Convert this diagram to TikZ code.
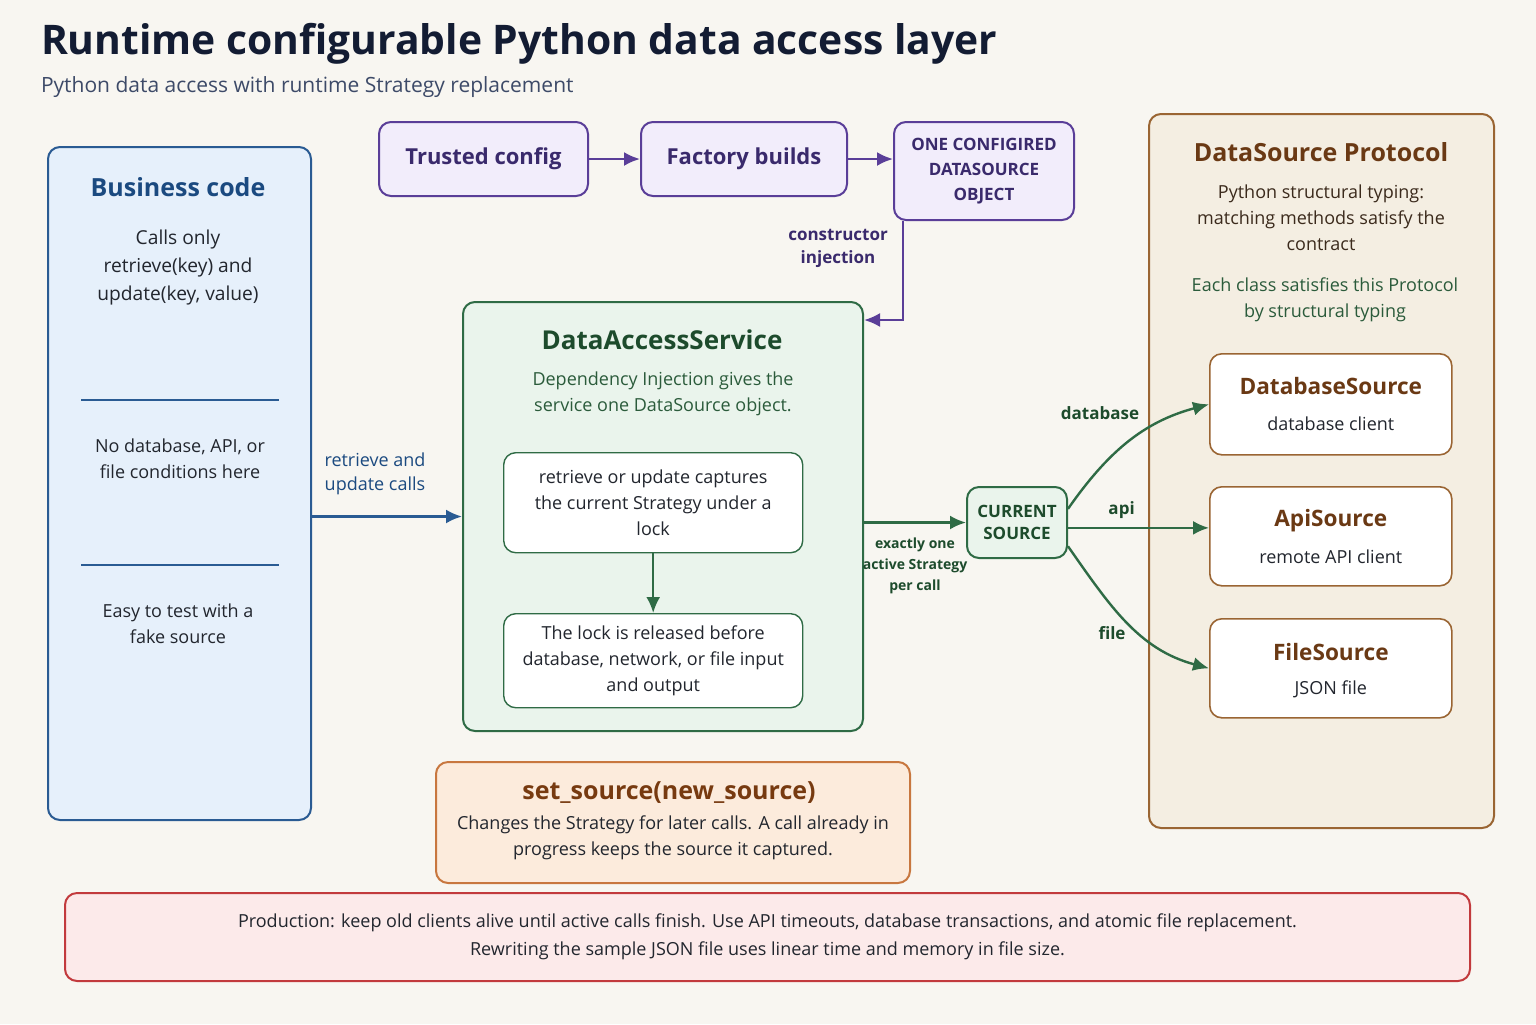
\documentclass[tikz,border=0pt]{standalone}
\usepackage{fontspec}
\setmainfont{Open Sans}
\usetikzlibrary{positioning,arrows.meta}

\definecolor{pagebg}{HTML}{F8F6F1}
\definecolor{titlec}{HTML}{131C33}
\definecolor{subc}{HTML}{3D4A68}
\definecolor{inkc}{HTML}{22262E}
\definecolor{bizfill}{HTML}{E6F0FB}
\definecolor{bizline}{HTML}{2A5B93}
\definecolor{bizhead}{HTML}{1B4A80}
\definecolor{cfgfill}{HTML}{F2EDFB}
\definecolor{cfgline}{HTML}{5A3E98}
\definecolor{cfgtext}{HTML}{3A2A6C}
\definecolor{dasfill}{HTML}{EAF4EC}
\definecolor{dasline}{HTML}{2F6B45}
\definecolor{dashead}{HTML}{1D4B2C}
\definecolor{dastext}{HTML}{2B5B3B}
\definecolor{protfill}{HTML}{F4EEE2}
\definecolor{protline}{HTML}{9A6533}
\definecolor{prothead}{HTML}{6A3914}
\definecolor{prottext}{HTML}{3B2A1C}
\definecolor{setfill}{HTML}{FCEBDC}
\definecolor{setline}{HTML}{C8773F}
\definecolor{sethead}{HTML}{773A10}
\definecolor{prodfill}{HTML}{FCEAEA}
\definecolor{prodline}{HTML}{C23A3D}

\begin{document}
\begin{tikzpicture}[x=0.5pt,y=-0.5pt,line width=1pt,>={Latex[length=8pt,width=7pt]},
	box/.style={draw,rounded corners=6pt,line width=1pt,inner sep=0pt,anchor=north west},
	body/.style={align=center,text=inkc,font=\fontsize{9}{13}\selectfont},
	bizbox/.style={box,draw=bizline,fill=bizfill},
	cfgbox/.style={box,draw=cfgline,fill=cfgfill,text=cfgtext,align=center},
	dasbox/.style={box,draw=dasline,fill=dasfill},
	innerbox/.style={box,draw=dasline,fill=white,line width=0.7pt,body},
	curbox/.style={box,draw=dasline,fill=dasfill,text=dashead,align=center,font=\bfseries\fontsize{8.5}{11}\selectfont},
	protbox/.style={box,draw=protline,fill=protfill},
	srcbox/.style={box,draw=protline,fill=white,line width=0.8pt},
	srchead/.style={text=prothead,font=\bfseries\fontsize{11.3}{14}\selectfont},
	head/.style={font=\bfseries\fontsize{12.5}{15}\selectfont},
	lbl/.style={align=center,font=\bfseries\fontsize{8.5}{11.5}\selectfont,inner sep=1pt},
	bluearrow/.style={->,draw=bizline,line width=1.2pt},
	purplearrow/.style={->,draw=cfgline,line width=1.2pt},
	greenarrow/.style={->,draw=dasline,line width=1.2pt}]

	%the page and its heading
	\useasboundingbox[fill=pagebg] (0,0) rectangle (1536,1024);
	\node[anchor=west,inner sep=0pt,text=titlec,font=\bfseries\fontsize{20.4}{24}\selectfont] (title) at (40,44) {Runtime configurable Python data access layer};
	\node[anchor=west,inner sep=0pt,text=subc,font=\fontsize{10.5}{12}\selectfont] (subtitle) at (40,87) {Python data access with runtime Strategy replacement};

	%the business code
	\node[bizbox,minimum width=131.5pt,minimum height=336.5pt] (biz) at (47,146) {};
	\node[head,text=bizhead] (bizt) at (178,187) {Business code};
	\node[body,font=\fontsize{9.6}{14}\selectfont] (bizcalls) at (178,268) {Calls only\\retrieve(key) and\\update(key, value)};
	\draw[bizline,line width=0.6pt] (81,400) -- (279,400);
	\node[body] (bizno) at (180,459) {No database, API, or\\file conditions here};
	\draw[bizline,line width=0.6pt] (81,565) -- (279,565);
	\node[body] (biztest) at (178,624) {Easy to test with a\\fake source};

	%the configuration chain
	\node[cfgbox,font=\bfseries\fontsize{11}{13}\selectfont,minimum width=104.5pt,minimum height=37pt] (trusted) at (378,121) {Trusted config};
	\node[cfgbox,font=\bfseries\fontsize{11}{13}\selectfont,minimum width=103pt,minimum height=37pt,right=25.5pt of trusted] (factory) {Factory builds};
	\node[cfgbox,font=\bfseries\fontsize{8.5}{12.5}\selectfont,minimum width=90pt,minimum height=49pt] (onecfg) at (893,121) {ONE CONFIGIRED\\DATASOURCE\\OBJECT};
	\draw[purplearrow] (trusted) -- (factory);
	\draw[purplearrow] (factory.east) -- (factory.east -| onecfg.west);

	%the service
	\node[dasbox,minimum width=200pt,minimum height=214.5pt] (das) at (462,301) {};
	\node[head,text=dashead,font=\bfseries\fontsize{13}{15}\selectfont] (dast) at (662,340) {DataAccessService};
	\node[body,text=dastext] (dasdi) at (663,394) {Dependency Injection gives the\\service one DataSource object.};
	\node[innerbox,minimum width=149.5pt,minimum height=50pt] (capture) at (503,452) {retrieve or update captures\\the current Strategy under a\\lock};
	\node[innerbox,minimum width=149.5pt,minimum height=47pt] (release) at (503,613) {The lock is released before\\database, network, or file input\\and output};
	\draw[greenarrow] (capture) -- (release);
	\draw[purplearrow] ([xshift=5pt]onecfg.south west) |- node[lbl,text=cfgtext,pos=0.14,left=6pt] {constructor\\injection} ([yshift=-9.5pt]das.north east);
	\draw[bluearrow] (biz.east |- das.west) -- node[lbl,text=bizhead,font=\fontsize{9}{12}\selectfont,above=9pt,pos=0.42] {retrieve and\\update calls} (das.west);

	%the current strategy
	\node[curbox,minimum width=50pt,minimum height=35.5pt] (cur) at (966,486) {CURRENT\\SOURCE};
	\draw[greenarrow] (das.east |- cur.west) -- node[lbl,text=dashead,font=\bfseries\fontsize{7}{10.5}\selectfont,below=6pt] {exactly one\\active Strategy\\per call} (cur.west);

	%the protocol and its sources
	\node[protbox,minimum width=172.5pt,minimum height=357pt] (proto) at (1148,113) {};
	\node[head,text=prothead] (protot) at (1321,152) {DataSource Protocol};
	\node[body,text=prottext] (prototyping) at (1321,218) {Python structural typing:\\matching methods satisfy the\\contract};
	\node[body,text=dastext] (protoeach) at (1325,300) {Each class satisfies this Protocol\\by structural typing};
	\node[srcbox,minimum width=121pt,minimum height=50.5pt] (dbsrc) at (1209,353) {};
	\node[srchead] at ([yshift=-16.5pt]dbsrc.north) {DatabaseSource};
	\node[body] at ([yshift=-35.5pt]dbsrc.north) {database client};
	\node[srcbox,minimum width=121pt,minimum height=49.5pt] (apisrc) at (1209,486) {};
	\node[srchead] at ([yshift=-17.5pt]apisrc.north) {ApiSource};
	\node[body] at ([yshift=-35.5pt]apisrc.north) {remote API client};
	\node[srcbox,minimum width=121pt,minimum height=49.5pt] (filesrc) at (1209,618) {};
	\node[srchead] at ([yshift=-17pt]filesrc.north) {FileSource};
	\node[body] at ([yshift=-35.5pt]filesrc.north) {JSON file};

	\draw[greenarrow] (cur.15) to[out=55,in=195] (dbsrc.west);
	\node[lbl,text=dashead] at (1100,413) {database};
	\draw[greenarrow] (cur.-6) -- node[lbl,text=dashead,pos=0.38,above=3pt] {api} (cur.-6 -| apisrc.west);
	\draw[greenarrow] (cur.-25) to[out=-55,in=165] (filesrc.west);
	\node[lbl,text=dashead] at (1112,633) {file};

	%changing the strategy
	\node[box,draw=setline,fill=setfill,minimum width=237pt,minimum height=60.5pt] (setsrc) at (435,761) {};
	\node[head,text=sethead] (sett) at (669,793) {set\_source(new\_source)};
	\node[body] (settxt) at (673,838) {Changes the Strategy for later calls. A call already in\\progress keeps the source it captured.};

	%production note
	\node[box,draw=prodline,fill=prodfill,minimum width=702.5pt,minimum height=44pt,body,font=\fontsize{9}{14}\selectfont] (prod) at (64,892) {Production: keep old clients alive until active calls finish. Use API timeouts, database transactions, and atomic file replacement.\\Rewriting the sample JSON file uses linear time and memory in file size.};

\end{tikzpicture}
\end{document}
